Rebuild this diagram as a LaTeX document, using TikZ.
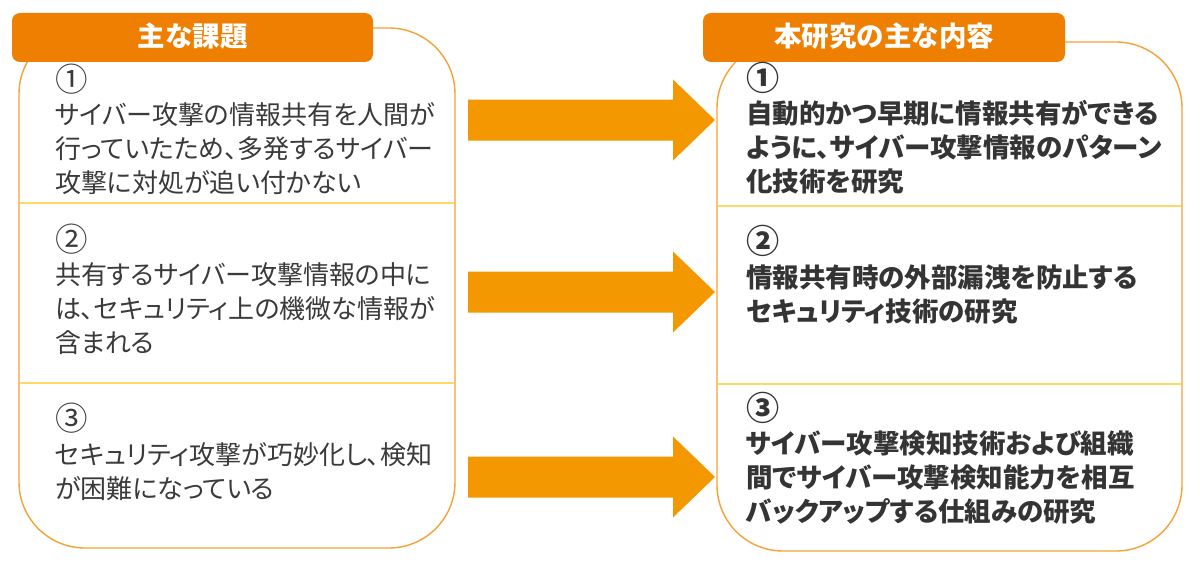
\documentclass[tikz,border=0pt]{standalone}
\usepackage{fontspec}
\usepackage{graphicx}
\newfontfamily\jp{Noto Sans CJK JP}
\newfontfamily\jpp[CharacterWidth=AlternateProportional]{Noto Sans CJK JP}
\newcommand{\cnum}[1]{\scalebox{1.25}{#1}}
\definecolor{hdr}{HTML}{EE7F00}
\definecolor{arr}{HTML}{F39800}
\definecolor{bord}{HTML}{F5A236}
\definecolor{sep}{HTML}{FFD966}
\definecolor{txt}{HTML}{3A3A3A}
\tikzset{
  hdrbox/.style={fill=hdr, rounded corners=8pt, inner sep=0pt},
  hdrtext/.style={text=white, font=\jp\bfseries\fontsize{27.5}{30}\selectfont, inner sep=0pt},
  panel/.style={draw=bord, line width=1.4pt, rounded corners=66pt},
  sepline/.style={draw=sep, line width=2pt},
  lefttext/.style={anchor=base west, align=left, inner sep=0pt, text=txt, font=\jpp\fontsize{26}{33.6}\selectfont},
  righttext/.style={anchor=base west, align=left, inner sep=0pt, text=txt!90!black, font=\jpp\bfseries\fontsize{26.5}{33.6}\selectfont},
}
\begin{document}
\begin{tikzpicture}[x=1pt,y=-1pt]
\useasboundingbox (0,0) rectangle (1200,578);
\fill[white] (0,0) rectangle (1200,578);
% panels
\path[panel] (19,28) rectangle (455,548);
\path[panel] (717,42) rectangle (1182,551);
% separators
\draw[sepline] (19.8,203) coordinate (ls1a) -- (454.2,203) coordinate (ls1b);
\draw[sepline] (19.8,383) coordinate (ls2a) -- (454.2,383) coordinate (ls2b);
\draw[sepline] (717.8,206) coordinate (rs1a) -- (1181.2,206) coordinate (rs1b);
\draw[sepline] (717.8,384) coordinate (rs2a) -- (1181.2,384) coordinate (rs2b);
% headers
\path[hdrbox] (12,13) rectangle (373,62);
\node[hdrtext] (lh) at (192.5,36) {主な課題};
\path[hdrbox] (703,13) rectangle (1065,62);
\node[hdrtext] (rh) at (884,36) {本研究の主な内容};
% arrows
\foreach \cy/\nm in {120/a1,292/a2,477/a3}{
  \fill[arr] (468,\cy-20.5) -- (673,\cy-20.5) -- (673,\cy-40.5) -- (715,\cy) -- (673,\cy+40.5) -- (673,\cy+20.5) -- (468,\cy+20.5) -- cycle;
}
% left texts (anchor = baseline of last line)
\node[lefttext] (l1) at (55,192) {\cnum{①}\\サイバー攻撃の情報共有を人間が\\行っていたため、多発するサイバー\\攻撃に対処が追い付かない};
\node[lefttext] (l2) at (55,352) {\cnum{②}\\共有するサイバー攻撃情報の中に\\は、セキュリティ上の機微な情報が\\含まれる};
\node[lefttext] (l3) at (55,498) {\cnum{③}\\セキュリティ攻撃が巧妙化し、検知\\が困難になっている};
% right texts
\node[righttext] (r1) at (746,191) {\cnum{①}\\自動的かつ早期に情報共有ができる\\ように、サイバー攻撃情報のパターン\\化技術を研究};
\node[righttext] (r2) at (746,321) {\cnum{②}\\情報共有時の外部漏洩を防止する\\セキュリティ技術の研究};
\node[righttext] (r3) at (746,521) {\cnum{③}\\サイバー攻撃検知技術および組織\\間でサイバー攻撃検知能力を相互\\バックアップする仕組みの研究};
\end{tikzpicture}
\end{document}
